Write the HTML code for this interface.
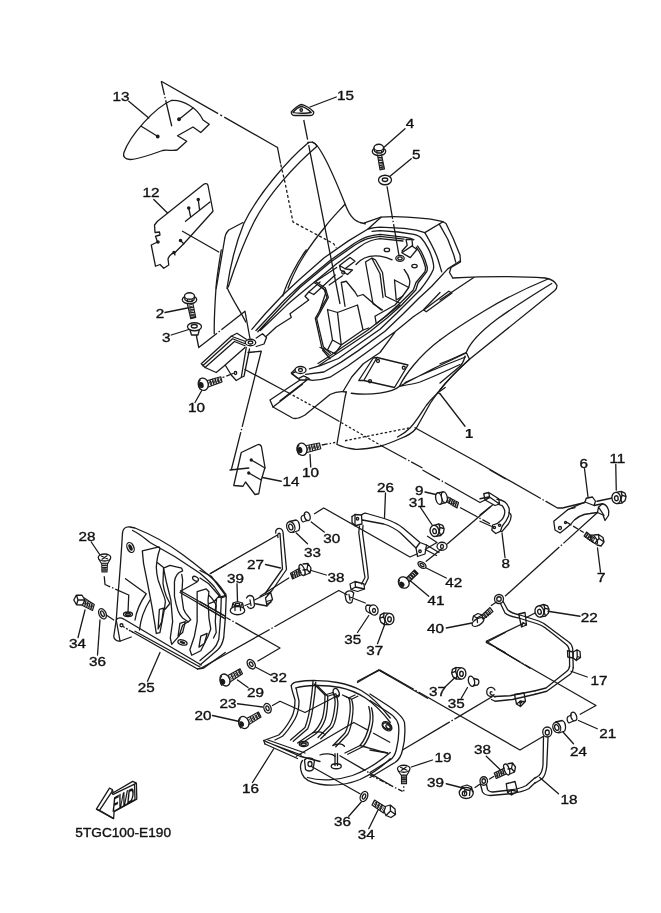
<!DOCTYPE html>
<html><head><meta charset="utf-8"><title>5TGC100-E190</title>
<style>
html,body{margin:0;padding:0;background:#fff;}
svg{display:block;filter:grayscale(1)}
.t{font-family:"Liberation Sans",sans-serif;font-size:12.4px;fill:#111;stroke:#111;stroke-width:.35px}
g.d *{vector-effect:non-scaling-stroke}
g.d [stroke-dasharray]{stroke-linecap:butt}
</style></head><body>
<svg width="661" height="913" viewBox="0 0 661 913">
<rect width="661" height="913" fill="#fff"/>
<g class="d" fill="none" stroke="#1a1a1a" stroke-width="1.3" stroke-linecap="round" stroke-linejoin="round">
<!-- tile A: parts 13, 12 -->
<g transform="translate(100,60) scale(.25)">
<path d="M95,372 C120,300 220,190 285,162 C330,158 390,190 412,240 L437,257 L403,290 L372,268 L310,303 L347,325 L308,360 C290,365 270,358 250,362 C200,380 150,398 120,398 C98,398 92,385 95,372 Z"/>
<path d="M372,192 L318,236 M165,265 L230,305"/>
<circle cx="316" cy="237" r="5" fill="#1a1a1a"/><circle cx="231" cy="306" r="5" fill="#1a1a1a"/>
<path d="M115,165 L195,232"/>
<path d="M245,85 L287,265" stroke-dasharray="14 2 1.5 2 60"/>
<path d="M245,85 L710,350" stroke-dasharray="65.5 2.5 2 2.5 200"/>
<!-- 12 -->
<path d="M415,497 C422,492 430,494 432,502 L452,605 L335,735 L300,770 C290,772 280,775 272,795 L275,820 L255,833 L240,818 L222,825 L205,740 L230,728 L222,705 L240,700 L238,688 L220,690 L218,660 L230,645 Z"/>
<path d="M440,568 L342,645 M355,592 L362,625 M393,558 L398,598 M322,722 L335,735 M296,770 L300,780"/>
<circle cx="355" cy="592" r="4.5" fill="#1a1a1a"/><circle cx="393" cy="558" r="4.5" fill="#1a1a1a"/><circle cx="322" cy="722" r="4.5" fill="#1a1a1a"/><circle cx="296" cy="770" r="4.5" fill="#1a1a1a"/><circle cx="232" cy="728" r="4.5" fill="#1a1a1a"/>
<path d="M330,685 L475,768 M215,558 L270,612"/>
</g>
<!-- tile B: part 15, fender peak -->
<g transform="translate(200,60) scale(.25)">
<path d="M432,332 C350,400 230,540 175,655 C140,740 120,830 108,913"/>
<path d="M468,345 C380,420 270,540 215,650 C170,740 135,840 113,908"/>
<path d="M432,332 C440,326 460,326 468,345"/>
<path d="M450,328 C470,335 480,360 495,385 C520,430 550,500 580,575 C595,615 610,640 640,650 L661,655"/>
<path d="M580,577 C550,610 520,640 500,668 C440,740 390,820 365,880 L352,913"/>
<path d="M172,650 L115,680 C105,690 100,700 98,720 L65,913"/>
<path d="M310,350 L322,412"/>
<path d="M323,418 L340,490 L372,648 L535,735 L545,752" stroke-dasharray="3 2.2"/>
<path d="M415,240 L560,976" stroke-dasharray="20 2 1.5 2 500"/>
<path d="M365,208 C375,195 395,180 405,178 C420,180 445,195 455,208 C455,215 450,222 440,222 L380,222 C370,222 365,215 365,208 Z"/>
<path d="M372,210 C380,200 395,188 405,186 C418,188 435,200 445,210 C430,214 385,214 372,210"/>
<circle cx="405" cy="200" r="5"/>
<path d="M545,148 L440,188"/>
</g>
<!-- tile C: bolt 4, washer 5 -->
<g transform="translate(330,100) scale(.25)">
<ellipse cx="196" cy="206" rx="27" ry="16"/>
<path d="M176,192 L178,205 L188,212 L206,212 L214,205 L214,192 M188,200 L188,212 M206,200 L206,212" />
<ellipse cx="195" cy="190" rx="19" ry="13" fill="#fff"/>
<path d="M190,220 L200,280 L218,276 L206,219 M192,232 L209,229 M194,242 L211,239 M196,252 L213,249 M198,262 L215,259 M199,271 L217,268" stroke-width="1.15"/>
<path d="M300,115 L215,190 M325,235 L240,305"/>
<ellipse cx="220" cy="320" rx="26" ry="19"/><ellipse cx="220" cy="319" rx="11" ry="7"/>
<path d="M228,345 L276,622" stroke-dasharray="33 2 1.5 2 100"/>
</g>
<!-- tile D: left-middle: 2,3,10, bracket -->
<g transform="translate(170,250) scale(.25)">
<!-- bolt 2 -->
<ellipse cx="78" cy="199" rx="29" ry="16"/>
<path d="M58,186 L60,199 L70,206 L88,206 L96,199 L98,186 M70,194 L70,206 M88,194 L88,206"/>
<ellipse cx="78" cy="184" rx="20" ry="13" fill="#fff"/>
<path d="M70,218 L83,275 L103,270 L92,216 M73,232 L95,228 M75,242 L97,238 M77,252 L99,248 M80,262 L101,258 M82,270 L102,266" stroke-width="1.15"/>
<!-- washer 3 -->
<ellipse cx="98" cy="307" rx="28" ry="16"/><ellipse cx="97" cy="305" rx="12" ry="7"/>
<path d="M80,320 L86,340 L112,340 L117,320"/>
<path d="M105,340 L115,390 L300,245 L320,355" stroke-dasharray="36 2 1.5 2 200"/>
<!-- fender left edges -->
<path d="M205,0 C195,60 186,120 184,152 C180,210 176,280 177,335"/>
<path d="M229,152 C250,200 285,250 303,288"/>
<path d="M545,0 C515,40 470,120 451,184"/>
<!-- rail -->
<path d="M600,128 L555,168 L540,185 L555,200 L480,255 L485,270 L425,308 L385,345"/>
<path d="M555,168 L575,178 M575,178 L661,100"/>
<!-- grommet/bracket -->
<ellipse cx="322" cy="370" rx="21" ry="13"/><ellipse cx="322" cy="370" rx="9" ry="6"/>
<path d="M125,455 L245,345 L300,365 M131,463 L250,355 L298,374 M140,470 L258,366 L300,383 M125,455 L140,470 L185,490 L215,465 L300,390"/>
<path d="M245,345 L268,333 L305,357 M345,352 L370,335 L386,350 L376,376 L345,386"/>
<path d="M305,390 L285,510 L265,522 L245,500 L222,462 M318,396 L296,505 L285,510"/>
<ellipse cx="262" cy="492" rx="5" ry="6"/>
<path d="M312,410 L365,405"/>
<path d="M365,405 L245,880" stroke-dasharray="78 2 1.5 2 200"/>
<path d="M255,493 L210,510" stroke-dasharray="8 2"/>
<!-- bolt 10 left -->
<ellipse cx="133" cy="537" rx="20" ry="25" transform="rotate(-15 133 537)"/><ellipse cx="125" cy="540" rx="7" ry="10" transform="rotate(-15 125 540)" fill="#1a1a1a"/><path d="M121,520 C113,531 113,547 121,558" stroke-width="1.15"/>
<path d="M150,522 L203,507 L208,528 L153,548 M160,519 L166,543 M170,516 L176,540 M180,513 L186,536 M190,510 L196,533" stroke-width="1.15"/>
<path d="M127,562 L100,610"/>
<!-- line to part 1 lower -->
<path d="M300,478 L475,572"/>
<path d="M475,572 L577,628 M669,681 L840,780" stroke-dasharray="2.5 2"/><path d="M577,628 L669,681"/>
<!-- lower fender piece -->
<ellipse cx="522" cy="480" rx="22" ry="14"/><ellipse cx="522" cy="480" rx="8" ry="6"/>
<path d="M500,478 L485,492 L520,520 L400,600 L412,628 L490,672 C505,678 520,672 540,660 L640,578 C660,568 680,564 705,568"/>
<path d="M412,628 L530,537 M440,603 L548,520 L520,520"/>
<!-- bolt 10 lower -->
<ellipse cx="528" cy="797" rx="20" ry="25" transform="rotate(-12 528 797)"/><ellipse cx="520" cy="800" rx="7" ry="10" transform="rotate(-12 520 800)" fill="#1a1a1a"/><path d="M516,780 C508,791 508,807 516,818" stroke-width="1.15"/>
<path d="M546,782 L598,772 L603,795 L548,810 M556,780 L561,806 M566,778 L571,803 M576,776 L581,800 M586,774 L591,798" stroke-width="1.15"/>
<path d="M607,780 L661,770" stroke-dasharray="6 2 1.5 2"/>
<path d="M560,818 L563,868"/>
</g>
<!-- tile F: right wing of fender, label 1 -->
<g transform="translate(440,230) scale(.25)">
<path d="M50,192 C150,187 300,183 420,192 C445,196 462,208 468,222 C468,232 465,238 458,243 L118,517 C70,560 30,600 0,640"/>
<path d="M432,196 C350,230 250,280 180,322 C100,370 40,410 0,440"/>
<path d="M447,214 C380,255 300,305 230,355 C170,400 120,450 105,490 L118,517"/>
<path d="M105,490 C60,510 30,525 0,535 M100,505 C95,525 90,535 80,545 C50,570 20,595 0,612"/>
<path d="M135,190 L0,280"/>
<path d="M0,655 L100,785"/>
</g>
<!-- tile G: fender interior -->
<g transform="translate(320,200) scale(.25)">
<!-- top box + rim (real coords inside nested group) -->
<g transform="translate(-1280,-800) scale(4)">
<path d="M364.5,222.8 L381,217.2 C395,215.8 420,217.5 430.8,219.2 L443,221.7 L446,223.5 L453,238 L460,255 L460.5,262 L451,267.5 L449.5,272.5 L452.5,277.5"/>
<path d="M381,217.2 L368,229 C372,228 376,227.3 380,227.1 L404.2,228.3 L416.3,230.1 L424.8,232.6 L443,221.7"/>
<path d="M424.8,232.6 C428,238 435,250 438.1,259.8 L441.7,271.9"/>
<path d="M439.3,224.1 L447.8,239.2 L453.8,255 L455.7,262.2"/>
<path d="M368,229 L348.4,240.9 L324.2,257.8 L300,279 L283.3,294.5 L265,314 L251.8,329.3"/>
<path d="M372,231.3 L380,230.7 L398.2,232 L413.9,234.4 C418,235.5 420,236.5 421.2,238 C424,241 426.5,245 428.4,248.9 C431,254 432.5,259 433.3,263.4 C433.8,266 433.8,268 433.3,269.5 C431.5,274 428,280 420,290 L410,300 L396.7,313.3 L380,329.2 L355,346.7 L338.4,358.5 L320.3,365.7 L309.4,368.8"/>
<path d="M256,330.5 L284.5,300 L300,285.5 L330.3,260.3 L354.5,243.3 C360,240 364,238 367.8,236.7 C372,235.4 376,234.8 380,234.4 L405.4,237.4 C409,238 412,238.8 413.9,239.8 M257.8,331.7 L285.7,302 L300,287.5 L330.3,262.3 L354.5,245.3 C360,242 364,240 367.8,238.7 C372,237.4 376,236.8 380,236.4 L404,239.2 M260.3,330.5 L286.9,305.1 L292.7,300 L336.3,264 L358,248 C363,244 367,242 370,241 C373,240 376,239.2 380,238.7 L403,241"/>
<path d="M417.5,245.9 C422,252 425.5,260 427.2,267 C427.5,269 427.3,270.5 426.6,271.9 L418,283 L415.8,290 L401.7,305 L386.7,318.3 L369.7,331.7 L349.2,345.5 L330,358 L319,365.5 M416.3,247.1 C420.5,253 424,261 425.4,267 C425.6,269 425.4,270.5 424.8,271.9 L416,282.5 L413.3,290 L400,303.3 L385,316.7 L368.3,329.7 L348.3,343.3 L330,355.8 L318,363.5"/>
</g>
<!-- interior -->
<g transform="translate(-1280,-800) scale(4)">
<path d="M401.8,252.8 L412.1,245.9 L416.9,249.5 L410.3,257.6 Z M406,239.5 L412,239.5 L412.6,245.9 M406,239.5 L407.2,245.3 L402,251"/>
<ellipse cx="400" cy="258.3" rx="4.2" ry="3"/><ellipse cx="400" cy="258.3" rx="2.2" ry="1.5"/>
<ellipse cx="386.9" cy="249.9" rx="2.7" ry="1.8"/><ellipse cx="414.5" cy="266.1" rx="2.7" ry="1.8"/>
<path d="M356,264.5 C362,257.5 370,255 380,256.2 C385,257 389,258.3 392.1,259.8 M404.2,269.5 C407,273 409,277 409.7,280.4 C410,283 409.5,285.5 408.5,287.6"/>
<path d="M460,261 L447.8,268.9 L432,286 L426.7,291 L418.3,298.8 L403.3,313.8 L385,331.3 L358.3,350.6 L340.8,362.4 L323.9,372 L305.7,374.4"/>
<path d="M440,292.5 L423.3,310 L413.3,316.7 L403.3,325 L395,331.7 L386.7,337.5 L371.7,348.7 L348.1,365.7 L330,377.2 C325,379 318,380.3 312.4,380.3 L305.7,379 M395,332.2 L380,352.5 L363.3,363.8 L351.7,377 L343.3,391"/>
</g>
<path d="M182,248 L208,232 L222,240 L250,290 L262,385 L318,412 M182,248 L212,415 L250,440 M208,234 L240,295 L252,390"/>
<path d="M298,320 L355,350 M298,320 L305,400 L330,385 L355,350"/>
<path d="M78,262 L120,230 L140,245 L100,275 Z M78,262 L82,280 L110,298 L130,280 L100,275"/>
<circle cx="93" cy="290" r="6"/>
<path d="M85,330 L105,325 L140,368 L150,385 L172,378 L245,440 M85,330 L100,425"/>
<path d="M30,438 L70,450 L150,420 L172,520 L85,580 L70,450 M30,438 L50,560 L85,580 M50,560 L30,600 L60,615 L85,580"/>
<path d="M220,465 L300,420 L330,385 M220,465 L225,495 L320,420 M172,520 L195,512"/>
<path d="M0,345 L25,365 L0,440 M0,590 L30,600 M10,600 L40,635"/>
<!-- plate -->
<path d="M228,630 L352,660 L298,750 L175,722 Z M228,630 L213,632 L155,722 L175,722"/>
<circle cx="232" cy="644" r="6"/><circle cx="335" cy="671" r="6"/><circle cx="200" cy="725" r="6"/>
<!-- panel lines -->
<path d="M415,440 L515,365 L528,372 L425,447 Z"/>
<path d="M480,560 C440,590 400,630 375,660 C350,690 330,720 318,745"/>
<path d="M318,745 C400,700 500,650 585,612 M340,730 C420,692 520,652 582,628 M318,745 C350,740 380,735 400,728 C470,700 530,672 560,658"/>
<path d="M598,637 C540,690 480,750 440,815 C415,860 395,895 385,913"/>
<path d="M470,770 L480,775"/>
<!-- left bottom -->
<path d="M125,773 C200,782 290,772 318,745"/>
<path d="M105,768 L100,790 L68,975"/>
</g>
<!-- tile H: interior left -->
<g transform="translate(250,240) scale(.166667)">
<path d="M520,165 L385,255 L445,295 L462,345 L392,470 L432,650 L475,690"/>
<path d="M395,250 L452,288 L470,345 L400,472 L440,640 L482,680"/>
<path d="M555,215 L475,270"/>
<path d="M355,832 L322,815 L290,832 L250,802 L275,790"/>
</g>
<!-- tile I: part 25, 28, 34, 36 -->
<g transform="translate(60,490) scale(.25)">
<!-- outer -->
<path d="M250,172 C252,155 262,146 280,148 L300,152 C370,180 440,220 490,258 C540,295 590,335 627,370 C645,390 655,405 663,417"/>
<path d="M290,162 C320,175 340,195 360,210 L460,267 L560,333 C585,355 605,372 617,387 L640,420"/>
<path d="M250,172 C246,240 240,330 232,420 L225,520 L215,585 C215,598 228,606 242,604 L285,588"/>
<path d="M225,520 C230,510 245,508 258,518 L565,700 M285,565 L550,716 M300,565 L560,708 M240,604 L225,520"/>
<path d="M550,716 L575,712 L661,650"/>
<path d="M262,355 L345,415 C320,450 305,490 300,520 M360,440 C335,480 322,520 318,560"/>
<!-- holes -->
<ellipse cx="282" cy="230" rx="13" ry="21" transform="rotate(-25 282 230)"/>
<ellipse cx="282" cy="230" rx="7" ry="14" transform="rotate(-25 282 230)" fill="#1a1a1a" stroke="none"/>
<ellipse cx="490" cy="610" rx="19" ry="10" transform="rotate(15 490 610)"/>
<ellipse cx="490" cy="610" rx="12" ry="5" transform="rotate(15 490 610)" fill="#1a1a1a" stroke="none"/>
<ellipse cx="272" cy="497" rx="18" ry="9"/><ellipse cx="272" cy="498" rx="10" ry="4"/>
<circle cx="246" cy="541" r="6"/>
<path d="M252,546 L292,570" stroke-dasharray="2 1.5"/>
<!-- fins -->
<!-- rod and lines -->
<path d="M600,335 L661,300"/>
<path d="M482,403 L661,505 M480,410 L661,515 M482,405 L548,368"/>
<ellipse cx="542" cy="355" rx="13" ry="8" transform="rotate(30 542 355)"/>
<!-- screw 28 -->
<ellipse cx="178" cy="270" rx="25" ry="14"/>
<path d="M165,264 L191,276 M168,277 L188,263" stroke-width="1.15"/>
<path d="M156,278 L165,293 L192,293 L200,278 M167,293 L168,328 L188,328 L190,293 M167,302 L189,300 M167,311 L189,309 M167,320 L189,318" stroke-width="1.15"/>
<path d="M125,208 L160,260"/>
<path d="M177,345 L180,378 L275,420 L272,490" stroke-dasharray="14 2 1.5 2 100"/>
<!-- bolt 34 -->
<path d="M55,440 L65,421 L88,421 L100,440 L90,460 L66,459 Z M66,421 L72,440 L66,459 M72,440 L100,440"/>
<path d="M97,432 L137,458 L130,482 L90,462 M105,437 L99,466 M113,442 L107,470 M121,447 L115,474 M129,452 L123,478" stroke-width="1.15"/>
<path d="M100,480 L72,590"/>
<!-- washer 36 -->
<ellipse cx="170" cy="495" rx="14" ry="22" transform="rotate(-25 170 495)"/><ellipse cx="170" cy="495" rx="6" ry="12" transform="rotate(-25 170 495)"/>
<path d="M160,520 L150,660"/>
<path d="M185,500 L215,520"/>
<path d="M400,650 L350,765"/>
</g>
<!-- tile J: 27, 30, 33, 38, 39, 32, 29, 23 -->
<g transform="translate(200,490) scale(.25)">
<!-- 30 -->
<ellipse cx="429" cy="105" rx="11" ry="18" transform="rotate(-20 429 105)"/>
<path d="M420,98 L408,104 C402,108 404,124 412,128 L428,122"/>
<path d="M445,128 L497,168 M458,95 L495,72 L840,268 L870,255"/>
<!-- 33 -->
<ellipse cx="363" cy="148" rx="16" ry="22" transform="rotate(-20 363 148)"/><ellipse cx="363" cy="148" rx="8" ry="12" transform="rotate(-20 363 148)"/>
<path d="M358,126 L385,120 C398,124 402,150 395,162 L372,170"/>
<path d="M385,172 L430,215"/>
<!-- 27 -->
<path d="M303,172 C300,158 312,150 325,156 C332,160 333,170 333,180 L346,318 L288,402 L272,418"/>
<path d="M312,190 C308,178 314,170 320,174 L330,316 L262,412"/>
<path d="M262,298 L322,312"/>
<path d="M310,180 L45,332"/>
<path d="M186,432 C192,420 206,418 214,430 L218,462 C214,476 198,478 190,466 M200,440 L204,462"/>
<path d="M218,440 L282,408 L290,438 L268,464 L222,455 M262,432 L268,464 M282,408 L262,432"/>
<path d="M266,446 L286,440 M267,454 L284,450" stroke-width="1.15"/>
<!-- 38 -->
<ellipse cx="408" cy="320" rx="10" ry="23" transform="rotate(-20 408 320)"/>
<path d="M412,296 L432,294 L444,312 L440,332 L420,340 M432,294 L428,318 L440,332 M428,318 L412,320"/>
<path d="M400,312 L362,333 L370,356 L408,338 M392,316 L398,342 M384,320 L390,346 M376,325 L382,350 M368,330 L374,354" stroke-width="1.15"/>
<path d="M445,322 L505,340"/>
<path d="M355,352 L240,425"/>
<!-- 39 nut -->
<ellipse cx="150" cy="482" rx="29" ry="17"/>
<path d="M128,470 L132,452 L150,446 L170,452 L174,470 M132,452 L140,466 L162,466 L170,452 M140,466 L140,482 M162,466 L162,482"/>
<ellipse cx="150" cy="458" rx="9" ry="5"/>
<path d="M148,375 L150,444 M180,462 L198,455"/>
<!-- part 25 right end -->
<path d="M0,322 L45,345 L105,425 C104,480 100,540 95,590 C90,615 82,630 70,640 L0,700"/>
<path d="M0,352 L35,375 L85,432 C84,490 80,545 75,598 C70,615 60,630 50,640 L0,682 M85,432 L105,425"/>
<!-- rod from 25, chain to 32 -->
<path d="M0,447 L101,505 M0,457 L95,512"/>
<path d="M105,510 L320,632 L230,685" stroke-dasharray="5 2 1.5 2 200"/>
<path d="M0,715 L555,402 L590,420" stroke-dasharray="80 2 1.5 2 300"/>
<!-- 32 -->
<ellipse cx="205" cy="697" rx="14" ry="21" transform="rotate(-35 205 697)"/><ellipse cx="205" cy="697" rx="6" ry="10" transform="rotate(-35 205 697)"/>
<path d="M225,710 L282,740"/>
<!-- 29 -->
<ellipse cx="100" cy="760" rx="19" ry="25" transform="rotate(-25 100 760)"/><ellipse cx="92" cy="766" rx="6" ry="9" transform="rotate(-25 92 766)" fill="#1a1a1a"/><path d="M86,745 C78,756 78,772 88,782" stroke-width="1.15"/>
<path d="M112,742 L160,715 L170,735 L120,768 M124,736 L134,758 M134,730 L144,752 M144,725 L154,746 M154,719 L163,740" stroke-width="1.15"/>
<path d="M150,760 L192,790"/>
<!-- 23 -->
<ellipse cx="270" cy="873" rx="14" ry="20" transform="rotate(-20 270 873)"/><ellipse cx="270" cy="873" rx="6" ry="10" transform="rotate(-20 270 873)"/>
<path d="M150,855 L250,868"/>
<path d="M290,862 L320,845 L420,890 L555,820"/>
<!-- 35 clip -->
<path d="M580,418 C585,402 605,398 615,412 L608,448 C600,458 588,450 584,440 Z M596,418 L600,440 M600,428 L661,452"/>
</g>
<!-- tile K: 26, 9, 31, 42, 41, 40, 35, 37 -->
<g transform="translate(340,470) scale(.25)">
<!-- 26 -->
<path d="M48,186 L60,178 L86,180 C92,174 98,172 104,173 L180,195 C210,205 235,218 252,232 L320,290 L346,300 L340,336 L310,346 L304,312 L320,290"/>
<path d="M90,200 L175,216 C205,225 225,238 242,252 L304,312 M86,180 L88,216 L60,223 L48,210 L48,186 M60,178 L60,223"/>
<circle cx="70" cy="195" r="5"/><circle cx="320" cy="325" r="5"/>
<path d="M346,300 L396,330 M341,318 L386,342"/>
<path d="M78,225 L75,250 L95,400 L100,430 L86,456 M92,222 L90,250 L110,400 L113,432 L100,460"/>
<path d="M40,456 L60,446 L96,456 L98,476 L70,486 L44,478 Z M60,446 L62,468 L44,478 M62,468 L98,476"/>
<path d="M182,92 L178,190"/>
<!-- 9 -->
<path d="M432,108 L474,130 L468,152 L426,126 M442,112 L436,134 M450,117 L444,139 M458,121 L452,144 M466,126 L460,148" stroke-width="1.15"/>
<path d="M340,88 L392,100"/>
<path d="M480,150 L600,215" stroke-dasharray="20 2 1.5 2 100"/>
<!-- 31 -->
<path d="M322,150 L372,225 M350,265 L388,290 L345,315"/>
<!-- washer -->
<ellipse cx="408" cy="305" rx="20" ry="16"/><ellipse cx="408" cy="306" rx="6" ry="8"/>
<path d="M430,295 L610,140 M404,318 L345,365"/>
<!-- 42 -->
<ellipse cx="328" cy="380" rx="18" ry="11" transform="rotate(35 328 380)"/><ellipse cx="328" cy="380" rx="9" ry="5" transform="rotate(35 328 380)"/>
<path d="M345,392 L425,432"/>
<!-- 41 -->
<ellipse cx="255" cy="450" rx="20" ry="24" transform="rotate(-40 255 450)"/><ellipse cx="248" cy="457" rx="6" ry="9" transform="rotate(-40 248 457)" fill="#1a1a1a"/><path d="M238,440 C232,452 236,466 248,472" stroke-width="1.15"/>
<path d="M266,432 L298,400 L312,414 L276,448 M274,424 L288,438 M281,417 L295,431 M288,410 L302,424 M295,403 L308,418" stroke-width="1.15"/>
<path d="M280,442 L355,505"/>
<!-- 40 -->
<ellipse cx="552" cy="608" rx="26" ry="13" transform="rotate(-30 552 608)"/>
<path d="M530,600 L534,584 L552,574 L568,580 L572,596 M534,584 L548,592 L568,580 M548,592 L550,610"/>
<path d="M566,582 L600,550 L612,566 L574,596 M574,574 L586,590 M582,567 L594,583 M590,560 L602,576" stroke-width="1.15"/>
<path d="M425,632 L528,612"/>
<!-- 35 pin -->
<ellipse cx="135" cy="560" rx="17" ry="21" transform="rotate(-20 135 560)"/><ellipse cx="136" cy="562" rx="6" ry="8"/>
<path d="M124,542 L108,540 C100,546 102,560 108,566 L122,574"/>
<path d="M115,582 L70,650"/>
<!-- 37 -->
<path d="M178,620 L150,695"/>
<!-- 37 b -->
<path d="M460,830 L420,868"/>
<!-- 35 b pin -->
<ellipse cx="526" cy="845" rx="12" ry="21" transform="rotate(-15 526 845)"/>
<path d="M536,834 L552,838 C558,844 556,856 550,860 L534,862"/>
<path d="M510,870 L485,913"/>
<!-- lines -->
<path d="M585,690 L661,650 M585,690 L661,730"/>
<path d="M70,845 L155,800 L350,913"/>
<path d="M330,0 L560,130 L600,110" stroke-dasharray="20 2 1.5 2 200"/>
<path d="M600,0 L661,35"/>
</g>
<!-- tile L: 6, 11, 7, 8, 22, 17 -->
<g transform="translate(480,440) scale(.25)">
<path d="M0,95 L310,272 L330,272 L420,250" stroke-dasharray="70 2 1.5 2 200"/>
<!-- 6 -->
<path d="M295,325 L352,278 L420,248 L425,233 L450,228 L462,245 L456,262 L490,255 C505,258 512,270 515,285 L514,302 L500,322 L492,300 L470,290 L440,294 C410,296 380,312 362,338 L338,358 L320,372 L300,360 Z"/>
<path d="M352,278 L380,270 M420,248 L456,262 M470,290 L474,268 L490,255 M474,268 L496,302"/>
<circle cx="320" cy="352" r="6"/><circle cx="342" cy="330" r="4"/>
<path d="M418,115 L432,228"/>
<!-- 11 -->
<path d="M543,98 L545,200 M468,245 L530,232"/>
<!-- 7 -->
<ellipse cx="456" cy="398" rx="9" ry="21" transform="rotate(-35 456 398)"/><path d="M456,380 L474,378 L492,390 L496,408 L484,424 L468,420 M474,378 L476,394 L496,408 M476,394 L462,410"/>
<path d="M458,394 L426,368 L416,384 L452,410 M448,386 L438,402 M440,380 L430,396 M432,374 L422,390" stroke-width="1.15"/>
<path d="M470,432 L482,528"/>
<path d="M345,328 L415,370" stroke-dasharray="6 2"/>
<path d="M470,290 L100,625" stroke-dasharray="46 2 1.5 2 200"/>
<!-- 8 -->
<path d="M15,215 L35,210 L75,235 L78,256 L60,262 L20,240 Z M35,210 L38,228 L20,240 M38,228 L78,256"/>
<path d="M68,237 C80,238 90,242 98.9,247.4 C108,255 114,264 116.4,273.2 C118,284 117,294 114.3,304 C108,320 98,334 88.6,345 L81.4,365.8 L62.9,374 L47.4,360.6 L50.5,340 L68,334.9 C80,326 90,318 93.7,309.2 C98,300 100,292 98.9,283.5 C97,274 93,267 88.6,262.9 L72,257"/>
<path d="M116,290 C122,294 125,298 124.6,304 C124,316 120,326 114.3,334.9 L88.6,365.8 L81.4,365.8"/>
<circle cx="57.7" cy="350.3" r="4.5"/><circle cx="78.3" cy="341" r="4.5"/>
<path d="M0,235 L35,228 M0,300 L40,268 M0,325 L45,345"/>
<path d="M88,372 L100,470"/>
<!-- 17 -->
<circle cx="76" cy="636" r="18"/><circle cx="76" cy="636" r="9"/>
<path d="M92,645 L110,678 C120,690 140,696 160,700 L235,724 C250,730 258,735 266.5,741.7 L305,771 L353.7,807 C362,812 368,822 370.6,833.7 L373,911"/>
<path d="M82,654 L100,692 C112,704 135,708 155,712 L228,735 C242,740 252,745 259,750 L298,780 L344,817 C351,822 356,832 357.6,843 L358.5,906"/>
<path d="M155,696 L180,690 L186,740 L166,748 Z M166,748 L172,730 L186,740"/>
<path d="M350,843 L373,848 L388,839 L400,846 L402,870 L385,882 L373,872 L351,868 Z M373,848 L373,872 M388,839 L389,866 L385,882 M389,866 L402,870"/>
<path d="M25,805 L170,735 M25,805 L200,913"/>
<path d="M45,662 L66,648"/>
<!-- 22 -->
<path d="M272,685 L400,705 M185,710 L220,692"/>
</g>
<!-- tile N: part 16, 20, 36b, 34b -->
<g transform="translate(225,660) scale(.25)">
<!-- outer -->
<path d="M265,102 C270,92 280,88 292,87 C330,80 400,80 450,90 C490,98 520,108 545,122 C580,142 620,180 661,232"/>
<path d="M282,112 C320,100 400,98 460,110 C500,118 535,135 562,152 C600,178 635,215 661,250"/>
<path d="M265,102 C266,120 275,140 280,160 C280,190 275,215 265,232 C250,260 235,282 215,300 L155,322 L160,336"/>
<path d="M285,114 C288,135 294,150 296,165 C296,195 290,218 280,236 C265,262 250,285 230,305 L200,320"/>
<path d="M155,322 L300,385 L380,406 M160,336 L290,394 M166,328 L305,380 M172,320 L320,372"/>
<path d="M310,402 C300,415 300,435 308,455 C315,475 340,490 380,497 C430,505 490,498 540,478 C590,455 630,425 661,395"/>
<path d="M330,470 C380,485 450,482 510,462 C570,440 620,405 661,370"/>
<path d="M318,400 C328,388 348,388 358,402 L352,438 C345,446 330,446 322,438 Z"/><ellipse cx="340" cy="416" rx="8" ry="10"/>
<path d="M346,426 L540,535"/>
<!-- fins -->
<path d="M352,84 C350,110 348,135 345,152 C340,200 332,240 320,270 L262,320"/>
<path d="M356,96 L400,140 C400,180 396,210 390,232 C380,260 368,278 350,292 L290,332"/>
<path d="M400,140 L432,130 C440,150 442,165 440,180 C436,220 430,245 420,262 L372,310"/>
<path d="M470,140 L495,152 C502,170 502,190 500,210 C496,250 490,275 480,292 L432,342"/>
<path d="M495,152 L520,140 M575,186 C582,210 582,235 578,255 C570,295 558,322 540,342 L480,372"/>
<path d="M350,292 C372,285 392,288 400,300 M432,342 C452,332 470,335 478,345 M380,380 C400,372 430,375 440,385"/>
<path d="M540,342 C570,350 610,362 650,372"/>
<g transform="translate(11,5)">
<path d="M352,84 C350,110 348,135 345,152 C340,200 332,240 320,270 L262,320"/>
<path d="M356,96 L400,140 C400,180 396,210 390,232 C380,260 368,278 350,292 L290,332"/>
<path d="M400,140 L432,130 C440,150 442,165 440,180 C436,220 430,245 420,262 L372,310"/>
<path d="M470,140 L495,152 C502,170 502,190 500,210 C496,250 490,275 480,292 L432,342"/>
<path d="M495,152 L520,140 M575,186 C582,210 582,235 578,255 C570,295 558,322 540,342 L480,372"/>
</g>
<ellipse cx="445" cy="131" rx="11" ry="18" transform="rotate(-20 445 131)"/>
<ellipse cx="315" cy="336" rx="18" ry="10"/><ellipse cx="315" cy="337" rx="10" ry="5"/>
<ellipse cx="648" cy="265" rx="18" ry="11" transform="rotate(30 648 265)"/>
<!-- lines -->
<path d="M285,385 L515,250 L545,266"/>
<path d="M545,266 L661,330" stroke-dasharray="8 2 1.5 2 100"/>
<path d="M440,375 L440,422 M450,375 L450,422"/><ellipse cx="445" cy="425" rx="20" ry="10"/>
<path d="M458,382 L661,500" stroke-dasharray="30 2 1.5 2 100"/>
<path d="M530,90 L615,40 L661,66"/>
<path d="M195,355 L110,490"/>
<!-- washer 36 -->
<ellipse cx="556" cy="546" rx="14" ry="21" transform="rotate(25 556 546)"/><ellipse cx="556" cy="546" rx="6" ry="11" transform="rotate(25 556 546)"/>
<path d="M545,568 L495,625"/>
<!-- bolt 34 -->
<path d="M598,560 L642,588 L634,612 L588,580 Z M608,566 L600,588 M618,572 L610,594 M628,578 L620,602" stroke-width="1.15"/>
<path d="M640,586 L661,580 L680,596 L682,618 L664,630 L644,622 L636,606 M661,580 L662,604 L644,622 M662,604 L682,618"/>
<path d="M612,600 L575,675"/>
<!-- bolt 20 -->
<ellipse cx="75" cy="250" rx="20" ry="25" transform="rotate(-25 75 250)"/><ellipse cx="67" cy="256" rx="6" ry="9" transform="rotate(-25 67 256)" fill="#1a1a1a"/><path d="M61,235 C53,246 53,262 63,272" stroke-width="1.15"/>
<path d="M90,232 L134,208 L144,228 L96,258 M100,226 L110,248 M110,221 L120,242 M120,215 L130,236 M129,210 L139,231" stroke-width="1.15"/>
<path d="M-50,222 L53,245"/>
</g>
<!-- tile O: 19, 38b, 39b, 18, clip -->
<g transform="translate(370,650) scale(.25)">
<!-- clip ring + pipe 17 lower -->
<path d="M500,160 C495,148 478,146 470,156 C462,168 468,184 482,186 C490,186 494,182 496,178"/>
<path d="M488,168 C482,164 478,170 482,176 L500,188"/>
<path d="M498,186 L560,183 L661,163 M486,198 L500,205 L570,198 L661,177"/>
<path d="M578,178 L616,172 L622,205 L602,226 L586,216 Z M602,226 L600,206 L622,205 M600,206 L586,216"/>
<circle cx="603" cy="208" r="4"/>
<!-- chain lines -->
<path d="M0,100 L40,80 L600,400 L694,345" stroke-dasharray="50 2 1.5 2 300"/>
<path d="M130,400 L490,186" stroke-dasharray="55 2 1.5 2 300"/>

<!-- part 16 right end -->
<path d="M0,176 L60,215 C100,240 130,262 138,290 C142,330 138,370 130,400 C125,425 115,440 100,450 L0,510"/>
<path d="M0,202 L50,235 C85,255 108,272 114,300 C118,335 112,372 105,400 C100,420 92,432 80,440 L0,490"/>
<ellipse cx="68" cy="305" rx="22" ry="15" transform="rotate(40 68 305)"/><ellipse cx="72" cy="307" rx="10" ry="6" transform="rotate(40 72 307)"/>
<path d="M0,400 L70,412"/>
<path d="M0,500 L135,568 L135,545" stroke-dasharray="5 2 1.5 2"/>
<!-- screw 19 -->
<ellipse cx="135" cy="475" rx="25" ry="14"/>
<path d="M122,469 L148,481 M125,482 L145,468" stroke-width="1.15"/>
<path d="M113,484 L124,500 L148,500 L157,484 M126,500 L126,535 L146,535 L146,500 M126,510 L146,508 M126,519 L146,517 M126,528 L146,526" stroke-width="1.15"/>
<path d="M165,468 L250,440"/>
<!-- bolt 38b -->
<ellipse cx="547" cy="478" rx="10" ry="23" transform="rotate(-20 547 478)"/>
<path d="M552,455 L570,452 L582,468 L578,488 L560,496 M570,452 L566,474 L578,488 M566,474 L552,476"/>
<path d="M538,472 L497,492 L505,514 L545,496 M530,476 L536,500 M522,480 L528,504 M514,484 L520,508 M506,488 L512,511" stroke-width="1.15"/>
<path d="M465,425 L520,478"/>
<!-- nut 39b -->
<ellipse cx="385" cy="572" rx="28" ry="22"/>
<path d="M362,560 L368,546 L388,540 L406,548 L410,566 M368,546 L380,558 L400,562 L406,548 M380,558 L378,576 M400,562 L398,582"/>
<ellipse cx="378" cy="574" rx="9" ry="9"/>
<path d="M305,535 L372,552"/>
<!-- 18 -->
<ellipse cx="455" cy="524" rx="15" ry="17"/><ellipse cx="455" cy="524" rx="7" ry="9"/>
<path d="M466,538 L470,558 C475,566 482,568 492,568 L560,560 C590,556 610,550 625,542 L661,510"/>
<path d="M442,538 L450,568 C458,580 470,582 482,582 L560,575 C595,570 618,564 635,555 L661,530"/>
<path d="M545,535 L580,526 L590,566 L566,580 L550,570 Z M566,580 L565,560 L590,566 M565,560 L550,570"/>
<path d="M420,550 L442,535 M478,516 L495,506"/>
</g>
<!-- tile P: 17, 21, 24, 18 -->
<g transform="translate(496,640) scale(.25)">
<path d="M157,203 L200,192 L282,126 C290,120 294,112 294,104"/>
<path d="M157,217 L203,205 L298,136 C306,128 309,120 309,110"/>
<path d="M300,125 L365,148"/>
<path d="M0,32 L400,262 L335,298" stroke-dasharray="28 2 1.5 2 300"/>
<!-- 21 -->
<ellipse cx="311" cy="306" rx="11" ry="18" transform="rotate(-20 311 306)"/>
<path d="M302,300 L288,306 C282,312 284,328 292,332 L310,324"/>
<path d="M330,322 L405,355"/>
<!-- 24 -->
<ellipse cx="243" cy="350" rx="15" ry="21" transform="rotate(-20 243 350)"/><ellipse cx="243" cy="350" rx="8" ry="12" transform="rotate(-20 243 350)"/>
<path d="M238,328 L265,322 C278,326 282,352 275,364 L252,372"/>
<path d="M268,368 L310,415"/>
<!-- 18 ring & pipe -->
<ellipse cx="205" cy="368" rx="18" ry="20"/><ellipse cx="205" cy="370" rx="8" ry="10"/>
<path d="M190,385 L188,500 C186,520 180,535 172,542 L157,552 M208,390 L203,505 C200,530 194,545 185,555 L157,572"/>
<path d="M175,550 L250,615"/>
</g>
<!-- tile Q: part 14 -->
<g transform="translate(130,280) scale(.25)">
<path d="M445,690 L510,659 C518,656 524,660 526,668 L540,750 L525,800 L515,855 L500,858 L462,808 L452,825 L415,822 Z"/>
<path d="M485,720 L540,752 M475,772 L525,800"/>
<circle cx="485" cy="720" r="4" fill="#1a1a1a"/><circle cx="475" cy="772" r="4" fill="#1a1a1a"/>
<path d="M400,760 L475,752"/>
<path d="M530,790 L605,805"/>
<path d="M140,130 L230,112 M165,220 L235,198"/>
</g>
<!-- tile R: lower fender -->
<g transform="translate(280,340) scale(.25)">
<path d="M545,353 C530,372 505,386 480,395 C450,408 425,418 400,425 C360,434 330,438 300,437 C270,434 245,426 228,418"/>
<path d="M661,190 C630,210 605,235 585,262 C565,292 545,325 522,350 C505,368 490,378 470,388"/>
<path d="M260,403 L515,352" stroke-dasharray="2.5 2"/>
<path d="M400,420 L570,512" stroke-dasharray="30 2 1.5 2 100"/>
<path d="M540,350.8 L800,495"/>
</g>
<!-- tile S: part 25 right end details (6x) -->
<g transform="translate(150,540) scale(.166667)">
<path d="M405,346 L445,336 L455,326 M420,332 L405,346 L385,368 M400,350 C396,380 394,400 392,420"/>
<path d="M352,330 C370,345 380,360 385,368"/>
</g>
<!-- tile U: part 25 fins (5.5x) -->
<g transform="translate(110,520) scale(.18155)">
<path d="M178,170 L270,148 L275,160 C265,185 258,220 255,260 C256,290 260,310 265,330 L290,400 C298,420 304,435 305,450 L300,490 L275,620 L255,625 L245,560 L230,470 L205,340 L185,240 Z"/>
<path d="M262,235 L295,262 C294,300 292,325 292,350 C296,380 302,400 310,420 L330,460 L305,490"/>
<path d="M272,492 L295,486 L285,560 L265,600 Z"/>
<path d="M295,265 L330,250 L395,265 L400,280 C385,285 375,292 370,300 C360,315 356,328 355,340 L355,420 C360,450 366,475 375,500 C382,518 390,530 400,540 L430,560 L400,580 L380,640 L340,685 L332,650 L345,560 L335,440 L310,340 Z"/>
<path d="M395,300 L400,330 L395,420 L405,490 C412,508 420,520 430,530 L445,550 L430,562"/>
<path d="M385,570 L415,560 L400,620 L375,640 Z"/>
<path d="M480,395 L530,380 L545,395 L540,440 L545,540 L555,600 L540,640 L500,720 L450,745 L440,715 L465,640 L480,560 L480,470 Z"/>
<path d="M500,640 L535,625 L520,680 L490,700 Z"/>
<path d="M545,460 L575,450 L585,470 L580,560 L585,620 L570,650"/>
</g>
<!-- nuts (real coords) -->
<g stroke-width="1.35">
<g transform="translate(434.5,530.9) rotate(0) scale(1,1)"><path d="M-0.5,-5.6 L4.2,-7 L8.2,-5.6 L9.6,-2.2 L9,1.6 L6.2,4.6 L1.5,5.4 M4.2,-7 L5.4,-3.4 L9.6,-2.2 M5.4,-3.4 L4.8,1.2 L6.2,4.6 M4.8,1.2 L1,2"/><ellipse rx="4.4" ry="5.6" transform="rotate(-12)" fill="#fff"/><ellipse cy=".3" rx="1.8" ry="2.5" transform="rotate(-12)"/></g>
<g transform="translate(616.3,498) rotate(5) scale(1,1)"><path d="M-0.5,-5.6 L4.2,-7 L8.2,-5.6 L9.6,-2.2 L9,1.6 L6.2,4.6 L1.5,5.4 M4.2,-7 L5.4,-3.4 L9.6,-2.2 M5.4,-3.4 L4.8,1.2 L6.2,4.6 M4.8,1.2 L1,2"/><ellipse rx="4.4" ry="5.6" transform="rotate(-12)" fill="#fff"/><ellipse cy=".3" rx="1.8" ry="2.5" transform="rotate(-12)"/></g>
<g transform="translate(539.4,611.5) rotate(0) scale(1,1)"><path d="M-0.5,-5.6 L4.2,-7 L8.2,-5.6 L9.6,-2.2 L9,1.6 L6.2,4.6 L1.5,5.4 M4.2,-7 L5.4,-3.4 L9.6,-2.2 M5.4,-3.4 L4.8,1.2 L6.2,4.6 M4.8,1.2 L1,2"/><ellipse rx="4.4" ry="5.6" transform="rotate(-12)" fill="#fff"/><ellipse cy=".3" rx="1.8" ry="2.5" transform="rotate(-12)"/></g>
<g transform="translate(389.5,619) rotate(-10) scale(-1,1)"><path d="M-0.5,-5.6 L4.2,-7 L8.2,-5.6 L9.6,-2.2 L9,1.6 L6.2,4.6 L1.5,5.4 M4.2,-7 L5.4,-3.4 L9.6,-2.2 M5.4,-3.4 L4.8,1.2 L6.2,4.6 M4.8,1.2 L1,2"/><ellipse rx="4.4" ry="5.6" transform="rotate(-12)" fill="#fff"/><ellipse cy=".3" rx="1.8" ry="2.5" transform="rotate(-12)"/></g>
<g transform="translate(461.5,673.5) rotate(-10) scale(-1,1)"><path d="M-0.5,-5.6 L4.2,-7 L8.2,-5.6 L9.6,-2.2 L9,1.6 L6.2,4.6 L1.5,5.4 M4.2,-7 L5.4,-3.4 L9.6,-2.2 M5.4,-3.4 L4.8,1.2 L6.2,4.6 M4.8,1.2 L1,2"/><ellipse rx="4.4" ry="5.6" transform="rotate(-12)" fill="#fff"/><ellipse cy=".3" rx="1.8" ry="2.5" transform="rotate(-12)"/></g>
<path d="M437.5,493 L443.2,491.9 M440.2,504.2 L445.5,502.7"/><ellipse cx="444.3" cy="497.3" rx="2.9" ry="5.5" transform="rotate(-14 444.3 497.3)"/><ellipse cx="438.8" cy="498.6" rx="3" ry="5.8" transform="rotate(-14 438.8 498.6)" fill="#fff"/>
</g>
<!-- threads -->
<g stroke-width="3.8" stroke-linecap="butt" stroke-dasharray=".75 .85">
<path d="M379.5,155.5 L382.25,169.25"/>
<path d="M190.25,304.5 L193.25,318"/>
<path d="M208,383.75 L221.25,379.25"/>
<path d="M307,449 L320,445.75"/>
<path d="M104.5,563.5 L104.5,572"/>
<path d="M404,775 L404,783.75"/>
<path d="M83.5,601.75 L93.25,607.5"/>
<path d="M373.25,802.5 L384.5,810"/>
<path d="M301,571.25 L291.5,576"/>
<path d="M505.25,771 L495.25,775.75"/>
<path d="M229,678.75 L241.25,671.25"/>
<path d="M248.25,721.25 L259.75,714.5"/>
<path d="M447.25,499.25 L457.75,505.25"/>
<path d="M407.75,580 L416.25,571.75"/>
<path d="M482.5,617.25 L491.5,609.5"/>
<path d="M593.75,540.5 L585.25,534"/>
</g>
</g>
<g class="t">
<text transform="translate(112.44,101.00) scale(1.24,1)" font-size="12.3">13</text>
<text transform="translate(142.44,197.00) scale(1.24,1)" font-size="12.3">12</text>
<text transform="translate(336.94,100.00) scale(1.24,1)" font-size="12.3">15</text>
<text transform="translate(405.77,128.00) scale(1.24,1)" font-size="12.3">4</text>
<text transform="translate(412.02,158.50) scale(1.24,1)" font-size="12.3">5</text>
<text transform="translate(155.77,317.50) scale(1.24,1)" font-size="12.3">2</text>
<text transform="translate(162.02,342.00) scale(1.24,1)" font-size="12.3">3</text>
<text transform="translate(187.94,412.00) scale(1.24,1)" font-size="12.3">10</text>
<text transform="translate(301.94,477.00) scale(1.24,1)" font-size="12.3">10</text>
<text transform="translate(282.44,485.75) scale(1.24,1)" font-size="12.3">14</text>
<text transform="translate(579.52,467.50) scale(1.24,1)" font-size="12.3">6</text>
<text transform="translate(609.44,463.00) scale(1.24,1)" font-size="12.3">11</text>
<text transform="translate(415.02,494.50) scale(1.24,1)" font-size="12.3">9</text>
<text transform="translate(377.02,492.00) scale(1.24,1)" font-size="12.3">26</text>
<text transform="translate(408.77,507.00) scale(1.24,1)" font-size="12.3">31</text>
<text transform="translate(501.52,568.00) scale(1.24,1)" font-size="12.3">8</text>
<text transform="translate(597.02,582.00) scale(1.24,1)" font-size="12.3">7</text>
<text transform="translate(445.27,587.00) scale(1.24,1)" font-size="12.3">42</text>
<text transform="translate(427.52,605.00) scale(1.24,1)" font-size="12.3">41</text>
<text transform="translate(323.27,543.25) scale(1.24,1)" font-size="12.3">30</text>
<text transform="translate(304.02,556.50) scale(1.24,1)" font-size="12.3">33</text>
<text transform="translate(247.02,568.50) scale(1.24,1)" font-size="12.3">27</text>
<text transform="translate(227.02,582.50) scale(1.24,1)" font-size="12.3">39</text>
<text transform="translate(327.52,581.75) scale(1.24,1)" font-size="12.3">38</text>
<text transform="translate(78.42,540.70) scale(1.24,1)" font-size="12.3">28</text>
<text transform="translate(580.77,621.50) scale(1.24,1)" font-size="12.3">22</text>
<text transform="translate(427.02,633.00) scale(1.24,1)" font-size="12.3">40</text>
<text transform="translate(69.02,647.50) scale(1.24,1)" font-size="12.3">34</text>
<text transform="translate(344.27,643.50) scale(1.24,1)" font-size="12.3">35</text>
<text transform="translate(366.27,654.50) scale(1.24,1)" font-size="12.3">37</text>
<text transform="translate(89.02,665.50) scale(1.24,1)" font-size="12.3">36</text>
<text transform="translate(590.44,685.00) scale(1.24,1)" font-size="12.3">17</text>
<text transform="translate(270.02,682.00) scale(1.24,1)" font-size="12.3">32</text>
<text transform="translate(137.77,691.50) scale(1.24,1)" font-size="12.3">25</text>
<text transform="translate(247.02,697.00) scale(1.24,1)" font-size="12.3">29</text>
<text transform="translate(429.02,696.00) scale(1.24,1)" font-size="12.3">37</text>
<text transform="translate(447.77,707.75) scale(1.24,1)" font-size="12.3">35</text>
<text transform="translate(219.52,707.50) scale(1.24,1)" font-size="12.3">23</text>
<text transform="translate(194.52,720.00) scale(1.24,1)" font-size="12.3">20</text>
<text transform="translate(599.27,738.00) scale(1.24,1)" font-size="12.3">21</text>
<text transform="translate(570.02,756.00) scale(1.24,1)" font-size="12.3">24</text>
<text transform="translate(474.02,753.50) scale(1.24,1)" font-size="12.3">38</text>
<text transform="translate(434.44,762.00) scale(1.24,1)" font-size="12.3">19</text>
<text transform="translate(241.94,792.50) scale(1.24,1)" font-size="12.3">16</text>
<text transform="translate(427.02,787.00) scale(1.24,1)" font-size="12.3">39</text>
<text transform="translate(560.44,804.00) scale(1.24,1)" font-size="12.3">18</text>
<text transform="translate(334.02,826.00) scale(1.24,1)" font-size="12.3">36</text>
<text transform="translate(357.77,838.50) scale(1.24,1)" font-size="12.3">34</text>
<text transform="translate(465.00,438) scale(1.2,1)" font-size="12.3" font-weight="bold" style="stroke-width:.15px">1</text>
<text transform="translate(75.30,836.8) scale(1.13,1)" font-size="12.1">5TGC100-E190</text>
</g>
<g fill="none" stroke="#1a1a1a" stroke-width="1.3" stroke-linejoin="round">
<path d="M96.4,809.1 L109.5,788.2 L112.3,789.5 L113.2,792.7 L132.7,781.4 L136.4,783.2 L136.8,799.1 L114.1,811.8 L113.6,818.6 Z"/>
<path d="M99.5,810.3 L111.8,791.8 L112.3,789.5 M96.4,809.1 L99.5,810.3 L113.6,818.6 M112.7,794.6 L134.5,784.1 L135,799.5 L113.4,811.6 M134.5,784.1 L136.4,783.2 M111.8,791.8 L112.7,794.6"/>
</g>
<text class="t" transform="matrix(0.45,-0.225,-0.1,1,111.9,812.0)" style="font-size:21px;font-weight:bold;stroke-width:.2px">FWD</text>
</svg></body></html>
